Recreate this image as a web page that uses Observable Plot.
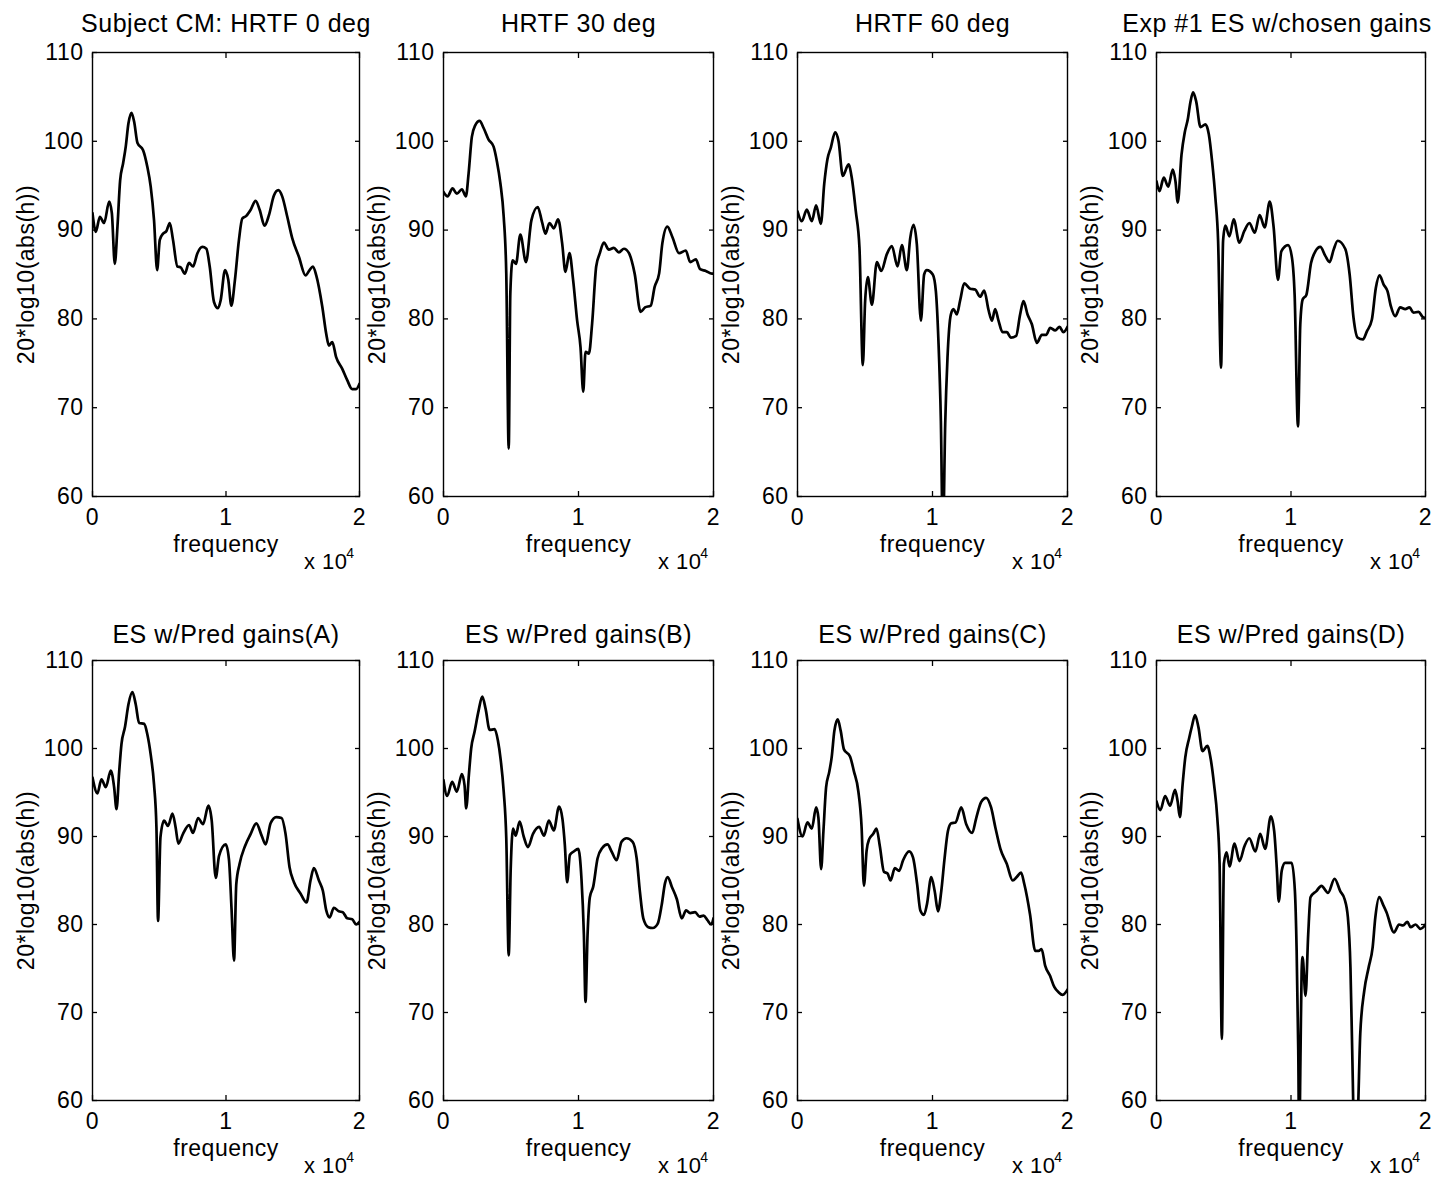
<!DOCTYPE html>
<html><head><meta charset="utf-8">
<script src="https://cdn.jsdelivr.net/npm/d3@7"></script>
<script src="https://cdn.jsdelivr.net/npm/@observablehq/plot@0.6"></script>
<style>
html,body{margin:0;padding:0;background:#fff;}
#wrap{position:relative;width:1448px;height:1179px;background:#fff;overflow:hidden;font-family:"Liberation Sans",Arial,sans-serif;}
#wrap svg{position:absolute;overflow:visible;}
#wrap svg text{letter-spacing:0.5px;}
</style></head><body><div id="wrap"></div>
<script>
// ---- texts and ticks ----
const titles = ["Subject CM: HRTF 0 deg","HRTF 30 deg","HRTF 60 deg","Exp #1 ES w/chosen gains",
                "ES w/Pred gains(A)","ES w/Pred gains(B)","ES w/Pred gains(C)","ES w/Pred gains(D)"];
const yTicks = [60,70,80,90,100,110];
const xTicks = [0,10,20];            // kHz
const xTickLabels = ["0","1","2"];   // shown in units of 10^4 Hz
const yLabel = "20*log10(abs(h))";
const xLabel = "frequency";
const xScaleText = "x 10";
const xScaleExp = "4";

// ---- series: [frequency (kHz), dB] ----
const hrtf0 = [[0,91.9],[0.25,89.8],[0.55,91.5],[0.87,90.8],[1.25,93.2],[1.45,91.9],[1.67,86.2],[1.87,90.4],[2.07,95.6],[2.29,97.5],[2.49,99.4],[2.69,102.0],[2.92,103.2],[3.12,102.2],[3.37,99.8],[3.79,99.0],[4.11,97.1],[4.36,94.9],[4.61,91.1],[4.84,85.5],[5.04,88.9],[5.29,89.6],[5.54,89.9],[5.79,90.8],[6.03,88.9],[6.36,85.9],[6.61,85.8],[6.91,85.1],[7.23,86.3],[7.53,85.9],[7.86,87.4],[8.23,88.1],[8.53,87.9],[8.78,85.9],[9.1,81.9],[9.4,81.2],[9.6,82.1],[9.93,85.5],[10.17,84.4],[10.4,81.5],[10.67,84.4],[10.97,88.9],[11.22,91.3],[11.52,91.6],[11.85,92.3],[12.22,93.3],[12.52,92.3],[12.89,90.5],[13.22,91.7],[13.59,93.9],[13.92,94.5],[14.21,93.8],[14.59,91.5],[14.96,89.1],[15.46,87.0],[15.96,84.9],[16.26,85.5],[16.51,85.9],[16.76,84.9],[17.21,81.4],[17.51,78.3],[17.71,77.0],[17.96,77.4],[18.25,75.7],[18.7,74.4],[19.08,73.1],[19.45,72.1],[19.75,72.1],[20,72.7]];
const hrtf30 = [[0,94.3],[0.3,93.8],[0.67,94.7],[0.99,94.1],[1.36,94.6],[1.66,93.8],[1.86,96.4],[2.1,100.5],[2.35,101.8],[2.67,102.3],[2.97,101.5],[3.34,100.2],[3.71,99.4],[3.96,97.7],[4.21,95.3],[4.46,91.5],[4.65,85.1],[4.83,65.4],[4.95,82.9],[5.12,86.6],[5.37,86.2],[5.69,89.5],[6.11,86.4],[6.51,91.1],[6.98,92.6],[7.3,90.9],[7.55,89.6],[7.85,90.8],[8.17,90.2],[8.49,91.2],[8.79,88.5],[9.03,85.3],[9.33,87.4],[9.6,84.4],[9.9,79.8],[10.15,76.8],[10.35,71.8],[10.52,76.3],[10.77,76.1],[11.01,79.5],[11.31,85.9],[11.58,87.4],[11.88,88.6],[12.25,87.8],[12.62,88.0],[12.99,87.5],[13.37,87.9],[13.74,87.4],[14.16,85.1],[14.6,80.8],[14.93,81.3],[15.35,81.5],[15.64,83.6],[15.97,85.1],[16.21,88.5],[16.58,90.4],[16.96,89.2],[17.45,87.4],[17.95,87.7],[18.27,86.4],[18.69,86.7],[19.01,85.6],[19.43,85.4],[19.88,85.1],[20,85.1]];
const hrtf60 = [[0,92.1],[0.32,91.0],[0.69,92.3],[1.06,91.0],[1.38,92.8],[1.73,90.7],[1.98,95.2],[2.22,98.0],[2.47,99.3],[2.79,101.0],[3.04,100.0],[3.36,96.1],[3.78,97.4],[4.02,95.9],[4.32,92.1],[4.59,88.0],[4.84,74.8],[5.01,82.0],[5.21,84.7],[5.51,81.6],[5.88,86.4],[6.2,85.4],[6.62,87.3],[6.99,88.2],[7.41,85.9],[7.73,88.3],[8.1,85.5],[8.35,89.1],[8.59,90.6],[8.84,88.4],[9.14,79.8],[9.38,85.0],[9.58,85.5],[10.02,85.0],[10.25,83.1],[10.44,77.5],[10.62,68.5],[10.77,55.0],[10.94,68.1],[11.11,75.6],[11.36,80.5],[11.56,81.1],[11.8,80.5],[12.05,82.1],[12.35,84.0],[12.79,83.4],[13.16,83.3],[13.53,82.5],[13.83,83.2],[14.15,81.0],[14.4,79.8],[14.64,81.1],[14.89,79.8],[15.19,78.5],[15.51,78.5],[15.8,77.9],[16.2,78.1],[16.49,80.5],[16.74,82.0],[17.04,80.5],[17.36,79.4],[17.73,77.3],[18.1,78.2],[18.42,78.2],[18.72,79.0],[19.09,78.7],[19.41,79.1],[19.7,78.5],[20,79.1]];
const exp1Chosen = [[0,95.5],[0.22,94.4],[0.54,95.9],[0.87,94.9],[1.21,96.8],[1.41,95.5],[1.58,93.1],[1.86,98.5],[2.1,101.0],[2.33,102.5],[2.52,104.4],[2.72,105.5],[2.95,104.5],[3.27,101.6],[3.64,101.9],[3.89,100.8],[4.13,97.8],[4.38,93.6],[4.58,88.8],[4.8,74.5],[4.95,88.8],[5.12,90.5],[5.42,89.3],[5.74,91.2],[6.16,88.6],[6.53,89.9],[6.91,90.8],[7.3,89.7],[7.67,91.7],[8.04,90.3],[8.42,93.2],[8.71,90.3],[9.03,84.4],[9.28,87.6],[9.78,88.3],[10.07,86.9],[10.27,82.7],[10.52,67.9],[10.69,79.4],[10.87,82.2],[11.14,82.7],[11.49,86.3],[11.81,87.6],[12.18,88.1],[12.55,87.1],[12.87,86.4],[13.17,87.8],[13.47,88.8],[14.03,87.9],[14.36,85.0],[14.65,80.1],[14.95,77.9],[15.35,77.7],[15.64,78.6],[16.01,79.9],[16.31,83.5],[16.58,84.9],[16.88,83.9],[17.18,83.1],[17.43,81.4],[17.75,80.3],[18.12,81.3],[18.49,81.1],[18.81,81.3],[19.11,80.7],[19.48,80.8],[19.8,80.2],[20,80.1]];
const predA = [[0,96.7],[0.37,94.9],[0.67,96.5],[1.0,95.6],[1.37,97.5],[1.62,95.6],[1.8,93.1],[2.0,97.4],[2.17,100.5],[2.44,102.5],[2.69,105.0],[2.99,106.4],[3.24,105.0],[3.49,102.9],[3.87,102.8],[4.11,101.6],[4.36,99.3],[4.61,95.9],[4.79,91.0],[4.91,80.4],[5.09,89.9],[5.36,91.8],[5.66,91.2],[5.99,92.6],[6.23,91.0],[6.43,89.2],[6.78,90.3],[7.23,91.3],[7.53,90.4],[7.91,92.1],[8.28,91.4],[8.68,93.5],[8.93,91.8],[9.23,85.3],[9.48,87.8],[9.98,89.1],[10.22,87.4],[10.42,81.6],[10.6,75.9],[10.77,84.6],[11.02,86.9],[11.42,88.9],[11.85,90.3],[12.27,91.5],[12.67,90.1],[12.97,89.1],[13.34,91.5],[13.77,92.2],[14.16,92.1],[14.46,90.3],[14.76,86.5],[15.09,84.8],[15.59,83.5],[16.03,82.5],[16.33,85.0],[16.58,86.4],[16.96,85.0],[17.26,83.8],[17.51,81.6],[17.76,80.8],[18.08,81.9],[18.45,81.5],[18.75,81.4],[19.08,80.7],[19.45,80.6],[19.75,80.0],[20,80.3]];
const predB = [[0,96.4],[0.27,94.6],[0.64,96.2],[0.99,95.1],[1.36,97.1],[1.56,95.8],[1.68,93.2],[1.88,97.0],[2.05,100.0],[2.3,101.9],[2.6,104.3],[2.87,105.9],[3.12,104.5],[3.42,102.1],[3.79,102.2],[4.03,100.9],[4.23,98.8],[4.46,95.1],[4.65,89.8],[4.83,76.5],[4.98,86.4],[5.15,90.9],[5.35,90.1],[5.64,91.7],[5.94,90.0],[6.26,88.8],[6.63,90.3],[7.08,91.1],[7.45,90.1],[7.8,91.8],[8.17,90.7],[8.56,93.4],[8.81,92.0],[8.99,89.0],[9.16,84.8],[9.36,87.9],[9.65,88.3],[9.98,88.6],[10.22,85.2],[10.4,78.8],[10.52,71.2],[10.67,78.8],[10.84,83.1],[11.09,84.3],[11.41,87.5],[11.76,88.7],[12.15,89.1],[12.45,88.3],[12.82,87.3],[13.19,89.4],[13.56,89.8],[14.01,89.4],[14.31,87.5],[14.55,83.7],[14.8,80.7],[15.17,79.7],[15.5,79.6],[15.87,80.1],[16.16,82.2],[16.41,84.7],[16.61,85.4],[16.91,84.3],[17.28,82.9],[17.65,80.7],[17.97,81.6],[18.27,81.3],[18.64,81.4],[18.96,80.9],[19.26,81.0],[19.55,80.5],[19.83,80.0],[20,80.7]];
const predC = [[0,92.0],[0.37,90.0],[0.74,91.6],[1.06,90.9],[1.38,93.3],[1.55,92.1],[1.75,86.3],[1.92,90.6],[2.12,95.6],[2.36,97.4],[2.53,99.0],[2.73,102.0],[2.98,103.3],[3.2,102.0],[3.44,99.9],[3.89,99.1],[4.18,97.4],[4.5,95.2],[4.75,91.0],[4.92,84.4],[5.12,88.4],[5.31,89.7],[5.61,90.3],[5.85,90.9],[6.1,88.9],[6.4,86.0],[6.67,85.8],[6.89,85.0],[7.21,86.4],[7.53,86.1],[7.82,87.3],[8.27,88.3],[8.56,87.6],[8.86,84.6],[9.1,81.6],[9.37,81.1],[9.59,82.3],[9.91,85.4],[10.16,83.8],[10.41,81.5],[10.65,83.8],[10.9,87.6],[11.14,90.6],[11.39,91.5],[11.71,91.6],[12.13,93.3],[12.5,91.4],[12.94,90.4],[13.24,92.1],[13.6,93.9],[13.97,94.4],[14.34,93.3],[14.66,91.0],[15.03,88.6],[15.5,86.9],[15.94,85.0],[16.24,85.4],[16.56,85.9],[16.8,84.6],[17.22,81.2],[17.61,77.0],[17.86,77.0],[18.08,77.2],[18.35,75.3],[18.7,74.2],[19.02,72.9],[19.34,72.3],[19.63,72.0],[20,72.6]];
const predD = [[0,94.0],[0.29,93.0],[0.64,94.6],[1.01,93.5],[1.38,95.3],[1.57,94.0],[1.74,92.2],[1.94,95.9],[2.14,99.0],[2.43,101.2],[2.63,102.5],[2.87,103.8],[3.12,102.4],[3.42,99.7],[3.78,100.3],[4.03,98.8],[4.28,95.9],[4.52,92.1],[4.69,86.9],[4.86,67.0],[5.01,86.9],[5.21,88.2],[5.43,86.6],[5.8,89.2],[6.17,87.2],[6.54,88.9],[6.9,89.8],[7.35,88.3],[7.71,90.3],[8.08,88.6],[8.5,92.3],[8.75,90.6],[8.94,86.5],[9.09,82.6],[9.31,86.1],[9.56,87.0],[10.05,87.0],[10.29,83.8],[10.42,77.0],[10.54,65.7],[10.61,55.0],[10.71,65.7],[10.79,74.7],[10.86,76.3],[11.08,71.9],[11.28,78.9],[11.45,83.1],[11.89,83.8],[12.26,84.4],[12.75,83.6],[13.24,85.2],[13.66,83.8],[13.98,82.9],[14.23,80.8],[14.42,75.1],[14.55,65.7],[14.8,50.0],[15.0,59.6],[15.15,67.6],[15.45,72.5],[15.77,75.1],[16.07,77.4],[16.27,80.8],[16.56,83.1],[16.86,82.2],[17.1,81.4],[17.66,79.1],[18.03,80.0],[18.33,79.9],[18.65,80.3],[18.89,79.7],[19.26,80.0],[19.63,79.5],[20,80.0]];

const panels = [hrtf0, hrtf30, hrtf60, exp1Chosen, predA, predB, predC, predD];

// ---- layout ----
const colLeft = [92, 443, 797, 1156];
const colWidth = [267, 270, 270, 269];
const rowTop = [52, 660];
const rowHeight = [444, 440];
const titleGap = [21, 18];
const titleShift = [0, 0, 0, -14, 0, 0, 0, 0];
const M = {left: 100, right: 14, top: 50, bottom: 85};
const FONT = '"Liberation Sans", Arial, Helvetica, sans-serif';

const wrap = document.getElementById("wrap");
panels.forEach((series, i) => {
  const r = Math.floor(i / 4), c = i % 4;
  const data = series.map(([f, db]) => ({f, db}));
  const chart = Plot.plot({
    width: M.left + colWidth[c] + M.right,
    height: M.top + rowHeight[r] + M.bottom,
    marginLeft: M.left, marginRight: M.right, marginTop: M.top, marginBottom: M.bottom,
    x: {domain: [0, 20]},
    y: {domain: [60, 110]},
    style: {fontFamily: FONT, fontSize: "23px", color: "black", background: "transparent", overflow: "visible"},
    marks: [
      Plot.axisY(yTicks, {anchor: "left", tickSize: 0, tickPadding: 9, label: null, fontSize: 23}),
      Plot.axisY(yTicks, {anchor: "left", tickSize: -5, fill: "none", label: null, strokeWidth: 1.3}),
      Plot.axisY(yTicks, {anchor: "right", tickSize: -5, fill: "none", label: null, strokeWidth: 1.3}),
      Plot.axisX(xTicks, {anchor: "bottom", tickSize: 0, tickPadding: 12, label: null, fontSize: 23,
        tickFormat: d => xTickLabels[xTicks.indexOf(d)]}),
      Plot.axisX(xTicks, {anchor: "bottom", tickSize: -5, fill: "none", label: null, strokeWidth: 1.3}),
      Plot.axisX(xTicks, {anchor: "top", tickSize: -5, fill: "none", label: null, strokeWidth: 1.3}),
      Plot.frame({stroke: "black", strokeWidth: 1.4}),
      Plot.line(data, {x: "f", y: "db", stroke: "black", strokeWidth: 2.7, curve: "monotone-x", clip: true}),
      Plot.text([titles[i]], {text: d => d, frameAnchor: "top", lineAnchor: "bottom", dy: -titleGap[r], dx: titleShift[i], fontSize: 25}),
      Plot.text([yLabel], {text: d => d, frameAnchor: "left", rotate: -90, dx: -66, textAnchor: "middle", lineAnchor: "middle", fontSize: 23}),
      Plot.text([xLabel], {text: d => d, frameAnchor: "bottom", lineAnchor: "bottom", dy: 55, fontSize: 23}),
      Plot.text([xScaleText], {text: d => d, frameAnchor: "bottom-right", textAnchor: "end", lineAnchor: "bottom", dx: -12, dy: 72, fontSize: 22}),
      Plot.text([xScaleExp], {text: d => d, frameAnchor: "bottom-right", textAnchor: "end", lineAnchor: "bottom", dx: -5, dy: 61, fontSize: 14})
    ]
  });
  chart.style.left = (colLeft[c] - M.left) + "px";
  chart.style.top = (rowTop[r] - M.top) + "px";
  wrap.appendChild(chart);
});
</script>
</body></html>
